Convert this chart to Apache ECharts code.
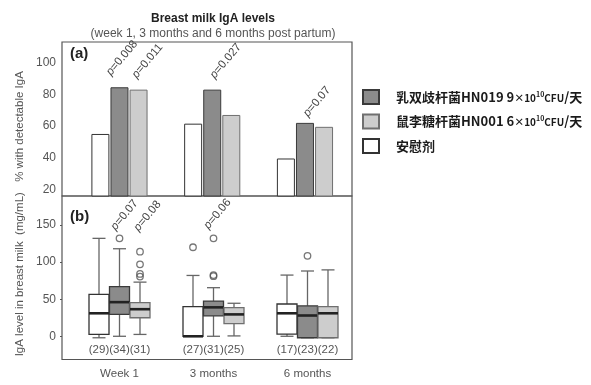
<!DOCTYPE html>
<html><head><meta charset="utf-8">
<script src="https://cdn.jsdelivr.net/npm/echarts@6/dist/echarts.min.js"></script>
<style>html,body{margin:0;padding:0;background:#fff}#c{width:591px;height:385px}</style>
</head><body><div id="c"></div><script>
// ---------- data ----------
const categories = ['Week 1', '3 months', '6 months'];
const seriesNames = ['安慰剂', '乳双歧杆菌HN019 9×10^10CFU/天', '鼠李糖杆菌HN001 6×10^10CFU/天'];
const strainNames = ['安慰剂', '乳双歧杆菌HN019', '鼠李糖杆菌HN001'];
const doseCoef = [null, '9', '6'];

// panel (a): % with detectable IgA
const detectPlacebo = [55, 61.5, 39.5];
const detectHN019 = [84.5, 83, 62];
const detectHN001 = [83, 67, 59.5];
const detectTicks = [20, 40, 60, 80, 100];

// panel (b): IgA level, [min, Q1, median, Q3, max]
const boxPlacebo = [[-2, 2.5, 31, 56.5, 132], [0, 0, 0, 40, 82], [0, 3, 31, 43.5, 82.5]];
const boxHN019 = [[0, 29.5, 46, 67, 118], [0, 27.5, 39, 47.5, 65.5], [-2, -2, 28, 41, 88]];
const boxHN001 = [[2.5, 25, 36.5, 45.5, 73], [0.5, 17, 29.5, 38.5, 44.5], [-2, -2, 31, 40, 89.5]];
const outPlacebo = [[], [120], []];
const outHN019 = [[132], [132, 82.5, 81], [108.5]];
const outHN001 = [[114, 97, 84, 80.5], [], []];
const nPlacebo = [29, 27, 17];
const nHN019 = [34, 31, 23];
const nHN001 = [31, 25, 22];
const levelTicks = [0, 50, 100, 150];

// p-value annotations
const pTextA = ['p=0.008', 'p=0.011', 'p=0.027', 'p=0.07'];
const pCatA = [0, 0, 1, 2];
const pTextB = ['p=0.07', 'p=0.08', 'p=0.06'];
const pCatB = [0, 0, 1];

// ---------- layout / style (not data) ----------
const pPlaceA = [[2.5, 103], [28, 101.1], [13.5, 101.1], [12, 75.4]]; // [dx px, y value]
const pPlaceB = [[5, 163.5], [28, 162.1], [4, 164.9]];
const FONT = '"Liberation Sans", Arial, Helvetica, sans-serif';
const CJK = '"Noto Sans CJK SC", "Noto Sans", sans-serif';
const boxStyles = [
  {fill: '#ffffff', stroke: '#333333'},
  {fill: '#8b8b8b', stroke: '#3a3a3a'},
  {fill: '#cdcdcd', stroke: '#6f6f6f'}
];
const boxOffsets = [-20.5, 0, 20.5];

const chart = echarts.init(document.getElementById('c'), null, {renderer: 'canvas'});

function boxSeries(idx, boxes, ns) {
  const data = boxes.map((b, i) => [i, b[0], b[1], b[2], b[3], b[4], ns[i]]);
  const st = boxStyles[idx];
  const off = boxOffsets[idx];
  return {
    type: 'custom', name: 'box' + idx, xAxisIndex: 1, yAxisIndex: 1,
    encode: {x: 0, y: [1, 2, 3, 4, 5]},
    data: data, silent: true, z: 3,
    renderItem: function (params, api) {
      const cat = api.value(0);
      const xc = api.coord([cat, 0])[0] + off;
      const y = v => api.coord([cat, v])[1];
      const yMin = y(api.value(1)), yQ1 = y(api.value(2)), yMed = y(api.value(3)),
            yQ3 = y(api.value(4)), yMax = y(api.value(5));
      const hw = 10, cw = 6.5;
      const wh = {stroke: '#666666', lineWidth: 1.3};
      const cs = params.coordSys;
      const children = [
        {type: 'line', shape: {x1: xc, y1: yQ3, x2: xc, y2: yMax}, style: wh},
        {type: 'line', shape: {x1: xc - cw, y1: yMax, x2: xc + cw, y2: yMax}, style: wh},
        {type: 'line', shape: {x1: xc, y1: yQ1, x2: xc, y2: yMin}, style: wh},
        {type: 'line', shape: {x1: xc - cw, y1: yMin, x2: xc + cw, y2: yMin}, style: wh},
        {type: 'rect', shape: {x: xc - hw, y: yQ3, width: 2 * hw, height: Math.max(yQ1 - yQ3, 0.5)},
          style: {fill: st.fill, stroke: st.stroke, lineWidth: 1.3}},
        {type: 'line', shape: {x1: xc - hw, y1: yMed, x2: xc + hw, y2: yMed},
          style: {stroke: '#222', lineWidth: 2.6}},
        {type: 'text', x: xc, y: cs.y + cs.height - 9.5,
          style: {text: '(' + api.value(6) + ')', align: 'center', verticalAlign: 'middle',
            fill: '#555', fontSize: 11.5, fontFamily: FONT}}
      ];
      return {type: 'group', children: children};
    }
  };
}

function outSeries(idx, outs) {
  const data = [];
  outs.forEach((arr, i) => arr.forEach(v => data.push([i, v])));
  return {
    type: 'scatter', name: 'out' + idx, xAxisIndex: 1, yAxisIndex: 1,
    data: data, symbol: 'circle', symbolSize: 6.5, symbolOffset: [boxOffsets[idx], 0],
    itemStyle: {color: 'rgba(255,255,255,0)', borderColor: '#555', borderWidth: 1.3},
    silent: true, z: 4
  };
}

const barStyles = [
  {color: '#ffffff', borderColor: '#333333', borderWidth: 1},
  {color: '#8b8b8b', borderColor: '#3a3a3a', borderWidth: 1},
  {color: '#cdcdcd', borderColor: '#6f6f6f', borderWidth: 1}
];
const detectData = [detectPlacebo, detectHN019, detectHN001];

const axisLabelStyle = {color: '#555', fontSize: 12, fontFamily: FONT};

const option = {
  backgroundColor: '#ffffff',
  animation: false,
  title: {
    text: 'Breast milk IgA levels',
    subtext: '(week 1, 3 months and 6 months post partum)',
    left: 208, top: 8, textAlign: 'center', itemGap: 3,
    textStyle: {fontSize: 12, fontWeight: 'bold', color: '#222', fontFamily: FONT},
    subtextStyle: {fontSize: 12, color: '#555', fontFamily: FONT}
  },
  legend: {
    orient: 'vertical', left: 362, top: 89, padding: 0, itemWidth: 16, itemHeight: 14, itemGap: 8.5,
    selectedMode: false, icon: 'rect',
    data: [seriesNames[1], seriesNames[2], seriesNames[0]],
    formatter: function (name) {
      const i = seriesNames.indexOf(name);
      if (doseCoef[i]) {
        return '{b|' + strainNames[i] + ' ' + doseCoef[i] + '}{s|×10}{sup|10}{s|CFU}{b|/天}';
      }
      return '{b|' + strainNames[i] + '}';
    },
    textStyle: {
      padding: [0, 0, 0, 12],
      rich: {
        b: {fontSize: 13, fontWeight: 'bold', fontFamily: CJK, color: '#1a1a1a', lineHeight: 16},
        s: {fontSize: 10, fontWeight: 'bold', fontFamily: CJK, color: '#1a1a1a', lineHeight: 16, padding: [2, 0, 0, 0]},
        sup: {fontSize: 7, fontWeight: 'bold', fontFamily: CJK, color: '#1a1a1a', lineHeight: 16, padding: [0, 0, 6, 0]}
      }
    }
  },
  grid: [
    {left: 73.1, top: 42, width: 278.25, height: 154, show: false},
    {left: 72.5, top: 196, width: 282, height: 163.5, show: false},
    {left: 62, top: 42, width: 290, height: 154, show: true, borderColor: '#555', borderWidth: 1.2, backgroundColor: 'transparent'},
    {left: 62, top: 196, width: 290, height: 163.5, show: true, borderColor: '#555', borderWidth: 1.2, backgroundColor: 'transparent'}
  ],
  xAxis: [
    {gridIndex: 0, type: 'category', data: categories, show: false},
    {gridIndex: 1, type: 'category', data: categories,
      axisLine: {show: false}, axisTick: {show: false},
      axisLabel: {color: '#555', fontSize: 11.5, fontFamily: FONT, margin: 8}},
    {gridIndex: 2, type: 'value', show: false},
    {gridIndex: 3, type: 'value', show: false}
  ],
  yAxis: [
    {gridIndex: 0, type: 'value', min: 15.8, max: 113.1, offset: 11.1,
      axisLine: {show: false}, axisTick: {show: false}, splitLine: {show: false},
      axisLabel: Object.assign({customValues: detectTicks, margin: 6}, axisLabelStyle),
      name: '% with detectable IgA', nameLocation: 'middle', nameGap: 36,
      nameTextStyle: {color: '#555', fontSize: 11.5, fontFamily: FONT, padding: [0, 15, 0, 0]}},
    {gridIndex: 1, type: 'value', min: -31.3, max: 189.1, offset: 10.5,
      axisLine: {show: false}, splitLine: {show: false},
      axisTick: {show: true, customValues: levelTicks, length: 2, lineStyle: {color: '#555'}},
      axisLabel: Object.assign({customValues: levelTicks, margin: 6}, axisLabelStyle),
      name: 'IgA level in breast milk  (mg/mL)', nameLocation: 'middle', nameGap: 36,
      nameTextStyle: {color: '#555', fontSize: 11.5, fontFamily: FONT, padding: [0, 0, 0, 7]}},
    {gridIndex: 2, type: 'value', show: false},
    {gridIndex: 3, type: 'value', show: false}
  ],
  series: [0, 1, 2].map(i => ({
    type: 'bar', name: seriesNames[i], xAxisIndex: 0, yAxisIndex: 0,
    data: detectData[i], barWidth: 18, barGap: '6%',
    itemStyle: barStyles[i], silent: true
  })).concat([
    boxSeries(0, boxPlacebo, nPlacebo),
    boxSeries(1, boxHN019, nHN019),
    boxSeries(2, boxHN001, nHN001),
    outSeries(0, outPlacebo),
    outSeries(1, outHN019),
    outSeries(2, outHN001)
  ])
};

chart.setOption(option);

// annotations: panel labels and p-values positioned through the axes
const graphics = [];
const rot = 50 * Math.PI / 180;
function pLabel(text, cat, place, gridIdx) {
  const pt = chart.convertToPixel({xAxisIndex: gridIdx, yAxisIndex: gridIdx}, [cat, place[1]]);
  graphics.push({
    type: 'text', x: pt[0] + place[0], y: pt[1], rotation: rot, z: 10,
    style: {
      text: '{i|p}' + text.slice(1), align: 'center', verticalAlign: 'middle',
      fill: '#444', fontSize: 11.5, fontFamily: FONT,
      rich: {i: {fontStyle: 'italic', fontSize: 11.5, fontFamily: FONT, fill: '#444'}}
    }
  });
}
pTextA.forEach((t, i) => pLabel(t, pCatA[i], pPlaceA[i], 0));
pTextB.forEach((t, i) => pLabel(t, pCatB[i], pPlaceB[i], 1));
graphics.push({type: 'text', left: 70, top: 46, z: 10,
  style: {text: '(a)', fontSize: 15, fontWeight: 'bold', fill: '#222', fontFamily: FONT}});
graphics.push({type: 'text', left: 70, top: 209, z: 10,
  style: {text: '(b)', fontSize: 15, fontWeight: 'bold', fill: '#222', fontFamily: FONT}});
chart.setOption({graphic: graphics});
</script></body></html>
